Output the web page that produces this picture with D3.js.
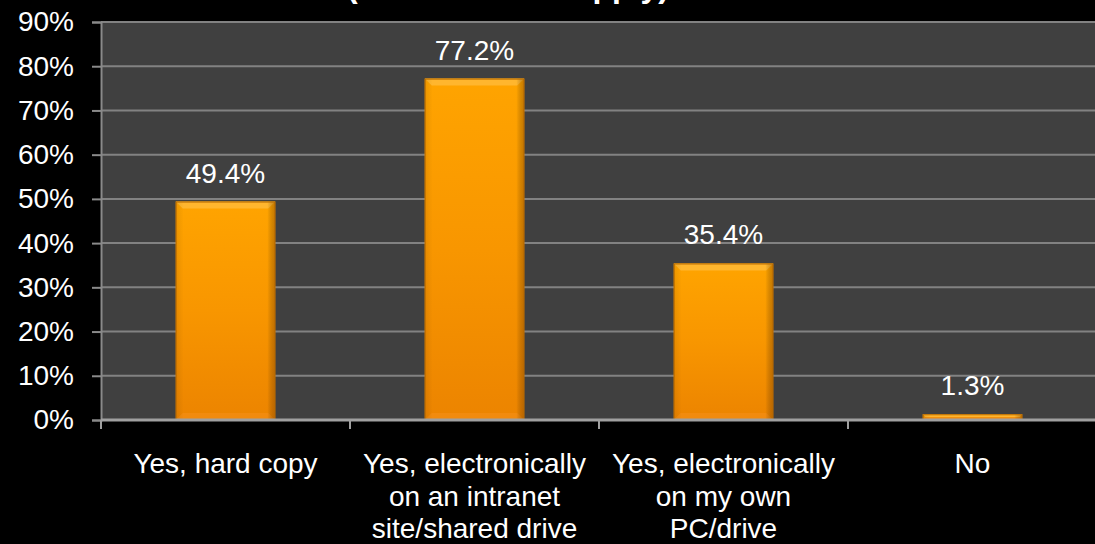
<!DOCTYPE html>
<html>
<head>
<meta charset="utf-8">
<script src="https://cdn.jsdelivr.net/npm/d3@7"></script>
<style>
  html, body { margin: 0; padding: 0; background: #000; }
  svg { display: block; }
  text { font-family: "Liberation Sans", Arial, sans-serif; fill: #fff; }
</style>
</head>
<body>
<svg id="chart" width="1095" height="544"></svg>
<script>
// Responses to "Do you keep a copy?"
const categories = [
  ["Yes, hard copy"],
  ["Yes, electronically", "on an intranet", "site/shared drive"],
  ["Yes, electronically", "on my own", "PC/drive"],
  ["No"]
];
const values = [49.4, 77.2, 35.4, 1.3];
const valueLabels = ["49.4%", "77.2%", "35.4%", "1.3%"];
const yTicks = [0, 10, 20, 30, 40, 50, 60, 70, 80, 90];
const titleText = "(Check all that apply)";

const svg = d3.select("#chart");
const W = 1095, H = 544;
const m = { left: 101, right: -2, top: 22, bottom: 124 };
const plotW = W - m.left - m.right;
const plotH = H - m.top - m.bottom;

const x = d3.scaleBand().domain(d3.range(categories.length)).range([m.left, m.left + plotW]).paddingInner(0.6).paddingOuter(0.3);
const xOuter = d3.scaleBand().domain(d3.range(categories.length)).range([m.left, m.left + plotW]);
const y = d3.scaleLinear().domain([0, 90]).range([m.top + plotH, m.top]);

// gradients
const defs = svg.append("defs");
const g1 = defs.append("linearGradient").attr("id", "barFill").attr("x1", 0).attr("y1", 0).attr("x2", 0).attr("y2", 1);
g1.append("stop").attr("offset", "0%").attr("stop-color", "#ffa400");
g1.append("stop").attr("offset", "50%").attr("stop-color", "#f89600");
g1.append("stop").attr("offset", "100%").attr("stop-color", "#ec8400");
const g2 = defs.append("linearGradient").attr("id", "sideShade").attr("x1", 0).attr("y1", 0).attr("x2", 1).attr("y2", 0);
g2.append("stop").attr("offset", "0%").attr("stop-color", "#000").attr("stop-opacity", 0.08);
g2.append("stop").attr("offset", "8%").attr("stop-color", "#000").attr("stop-opacity", 0);
g2.append("stop").attr("offset", "92%").attr("stop-color", "#000").attr("stop-opacity", 0);
g2.append("stop").attr("offset", "100%").attr("stop-color", "#5a2a00").attr("stop-opacity", 0.35);

// title (runs off the top edge, only its lowest strokes show)
svg.append("text")
  .attr("x", 508).attr("y", -3)
  .attr("text-anchor", "middle")
  .style("font-size", "32px").style("font-weight", "bold")
  .text(titleText);

// plot background
svg.append("rect")
  .attr("x", m.left).attr("y", m.top)
  .attr("width", plotW).attr("height", plotH)
  .attr("fill", "#404040");

// gridlines
svg.append("g")
  .selectAll("line")
  .data(yTicks.filter(d => d > 0))
  .join("line")
  .attr("x1", m.left).attr("x2", m.left + plotW)
  .attr("y1", d => y(d)).attr("y2", d => y(d))
  .attr("stroke", "#828282").attr("stroke-width", 2);

// y axis
const yAxis = svg.append("g")
  .attr("transform", `translate(${m.left},0)`)
  .call(d3.axisLeft(y).tickValues(yTicks).tickFormat(d => d + "%").tickSize(9).tickPadding(18));
yAxis.select(".domain").attr("stroke", "#8a8a8a").attr("stroke-width", 2);
yAxis.selectAll(".tick line").attr("stroke", "#8a8a8a").attr("stroke-width", 2);
yAxis.selectAll(".tick text")
  .style("font-size", "28px")
  .attr("fill", "#fff")
  .style("font-family", "'Liberation Sans', Arial, sans-serif");

// bars
const bars = svg.append("g").selectAll("g").data(values).join("g");
const bev = 7;
bars.append("rect")
  .attr("x", (d, i) => x(i)).attr("y", d => y(d))
  .attr("width", x.bandwidth()).attr("height", d => y(0) - y(d))
  .attr("fill", "url(#barFill)");
// top bevel
bars.append("polygon")
  .attr("points", (d, i) => {
    const x0 = x(i), x1 = x(i) + x.bandwidth(), t = y(d);
    const b = Math.min(bev, (y(0) - y(d)) / 2);
    return [[x0, t], [x1, t], [x1 - b, t + b], [x0 + b, t + b]].map(p => p.join(",")).join(" ");
  })
  .attr("fill", "#ffb833").attr("opacity", 0.9);
// bottom bevel
bars.append("polygon")
  .attr("points", (d, i) => {
    const x0 = x(i), x1 = x(i) + x.bandwidth(), bt = y(0);
    const b = Math.min(bev, (y(0) - y(d)) / 2);
    return [[x0, bt], [x1, bt], [x1 - b, bt - b], [x0 + b, bt - b]].map(p => p.join(",")).join(" ");
  })
  .attr("fill", "#f28c10").attr("opacity", 0.9);
// side shading
bars.append("rect")
  .attr("x", (d, i) => x(i)).attr("y", d => y(d))
  .attr("width", x.bandwidth()).attr("height", d => y(0) - y(d))
  .attr("fill", "url(#sideShade)");
// outline
bars.append("rect")
  .attr("x", (d, i) => x(i) + 0.5).attr("y", d => y(d) + 0.5)
  .attr("width", x.bandwidth() - 1).attr("height", d => y(0) - y(d) - 1)
  .attr("fill", "none").attr("stroke", "#b86a00").attr("stroke-width", 1);

// value labels
svg.append("g").selectAll("text")
  .data(values)
  .join("text")
  .attr("x", (d, i) => x(i) + x.bandwidth() / 2)
  .attr("y", d => y(d) - 19)
  .attr("text-anchor", "middle")
  .style("font-size", "28px")
  .text((d, i) => valueLabels[i]);

// x axis line and category ticks
const xAxisG = svg.append("g");
xAxisG.append("line")
  .attr("x1", m.left).attr("x2", W)
  .attr("y1", y(0)).attr("y2", y(0))
  .attr("stroke", "#a0a0a0").attr("stroke-width", 3);
xAxisG.selectAll("line.tick")
  .data(d3.range(categories.length + 1))
  .join("line").attr("class", "tick")
  .attr("x1", i => m.left + i * xOuter.bandwidth())
  .attr("x2", i => m.left + i * xOuter.bandwidth())
  .attr("y1", y(0)).attr("y2", y(0) + 9)
  .attr("stroke", "#a0a0a0").attr("stroke-width", 2);

// category labels
const lab = svg.append("g").selectAll("text")
  .data(categories)
  .join("text")
  .attr("text-anchor", "middle")
  .style("font-size", "28px");
lab.each(function (lines, i) {
  const cx = xOuter(i) + xOuter.bandwidth() / 2;
  d3.select(this).selectAll("tspan")
    .data(lines)
    .join("tspan")
    .attr("x", cx)
    .attr("y", (d, k) => 473 + k * 32.5)
    .text(d => d);
});
</script>
</body>
</html>
